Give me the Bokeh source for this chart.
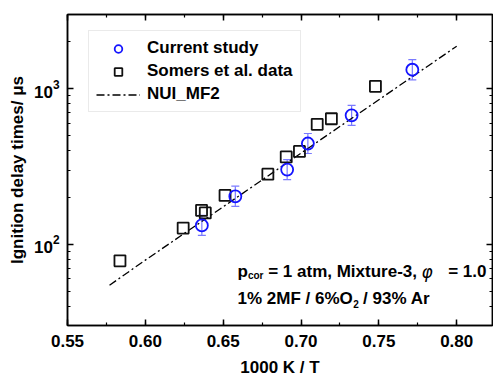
from bokeh.plotting import figure
from bokeh.models import (ColumnDataSource, Whisker, TeeHead, Legend, LegendItem, Label,
                          FixedTicker, SingleIntervalTicker, PrintfTickFormatter,
                          LinearAxis, LogAxis, Range1d)
from bokeh.embed import file_html
from bokeh.resources import INLINE

# ---- data ----
cur_x = [0.6363, 0.6578, 0.6911, 0.7044, 0.7325, 0.7715]
cur_y = [132, 203, 302, 444, 674, 1324]
cur_lo = [114, 175, 260, 383, 581, 1141]
cur_hi = [153, 236, 350, 515, 782, 1536]

som_x = [0.5837, 0.6243, 0.6361, 0.6385, 0.6512, 0.6787, 0.6905, 0.6990, 0.7104, 0.7195, 0.7478]
som_y = [78.2, 127, 165, 159, 206, 282, 364, 395, 590, 641, 1035]

nui_x = [0.577, 0.60, 0.65, 0.70, 0.75, 0.80]
nui_y = [54.5, 79, 174, 385, 849, 1875]

y_major = [100, 1000]
y_minor = [30, 40, 50, 60, 70, 80, 90, 200, 300, 400, 500, 600, 700, 800, 900, 2000, 3000]

FONT = "Liberation Sans"
BLUE = "#1414ff"
ERR = "#7a7aff"

p = figure(width=493, height=379,
           x_range=Range1d(0.55, 0.823), y_range=Range1d(30, 3000),
           y_axis_type="log", output_backend="svg", toolbar_location=None,
           min_border_left=67, min_border_right=1, min_border_top=14, min_border_bottom=53)
p.xgrid.visible = False
p.ygrid.visible = False
p.outline_line_color = "black"
p.outline_line_width = 1.5
p.outline_line_alpha = 1.0
p.background_fill_color = "white"
p.border_fill_color = "white"

xticker = SingleIntervalTicker(interval=0.05, num_minor_ticks=2)
yticker = FixedTicker(ticks=y_major, minor_ticks=y_minor)

bottom = p.xaxis[0]
left = p.yaxis[0]
bottom.ticker = xticker
bottom.formatter = PrintfTickFormatter(format="%.2f")
left.ticker = yticker

top = LinearAxis(ticker=xticker)
right = LogAxis(ticker=yticker)
p.add_layout(top, "above")
p.add_layout(right, "right")

for ax in [bottom, left, top, right]:
    ax.axis_line_color = "black"
    ax.axis_line_width = 1.5
    ax.major_tick_line_color = "black"
    ax.minor_tick_line_color = "black"
    ax.major_tick_line_width = 1.5
    ax.minor_tick_line_width = 1.2
    ax.major_tick_in = 6
    ax.major_tick_out = 0
    ax.minor_tick_in = 3
    ax.minor_tick_out = 0
    ax.major_label_text_font = FONT
    ax.major_label_text_font_style = "bold"
    ax.major_label_text_font_size = "17px"
    ax.major_label_text_color = "black"
    ax.axis_label_text_font = FONT
    ax.axis_label_text_font_style = "bold"
    ax.axis_label_text_font_size = "17px"
    ax.axis_label_text_color = "black"

for ax in [top, right]:
    ax.major_label_text_font_size = "1px"
    ax.major_label_text_alpha = 0
    ax.major_label_standoff = 0

bottom.axis_label = "1000 K / T"
bottom.major_label_standoff = 9
bottom.axis_label_standoff = 8
left.axis_label = "Ignition delay times/ μs"
left.major_label_standoff = 8
left.axis_label_standoff = 4

# NUI_MF2 model line
r_line = p.line(nui_x, nui_y, line_color="black", line_width=1.3, line_dash="8 3 2 3")

# Somers et al. squares
r_som = p.scatter(som_x, som_y, marker="square", size=11, line_color="#111111",
                  line_width=1.8, fill_color=None)

# current study with error bars
src = ColumnDataSource(dict(x=cur_x, y=cur_y, lo=cur_lo, hi=cur_hi))
wh = Whisker(source=src, base="x", upper="hi", lower="lo", line_color=ERR, line_width=1.2,
             upper_head=TeeHead(size=8, line_color=ERR, line_width=1.2),
             lower_head=TeeHead(size=8, line_color=ERR, line_width=1.2))
p.add_layout(wh)
r_cur = p.scatter("x", "y", source=src, marker="circle", size=12, line_color=BLUE,
                  line_width=1.8, fill_color=None)

legend = Legend(items=[LegendItem(label="Current study", renderers=[r_cur]),
                       LegendItem(label="Somers et al. data", renderers=[r_som]),
                       LegendItem(label="NUI_MF2", renderers=[r_line])],
                location=(21, 213), orientation="vertical",
                label_text_font=FONT, label_text_font_style="bold",
                label_text_font_size="17px", label_text_color="black",
                label_height=19, glyph_height=19, glyph_width=44, label_standoff=7,
                spacing=3, padding=7,
                border_line_color="#d6d6d6", border_line_width=1.2,
                background_fill_color="white", background_fill_alpha=1.0)
p.add_layout(legend, "center")

# annotation text (screen units relative to the plot frame)
def lab(x, y, text, size="17px", style="bold", font=FONT):
    p.add_layout(Label(x=x, y=y, x_units="screen", y_units="screen", text=text,
                       text_font=font, text_font_style=style, text_font_size=size,
                       text_color="black", text_baseline="alphabetic", text_align="left"))

x0 = 170
y1 = 54
y2 = 27
lab(x0, y1, "p")
lab(x0 + 10.4, y1 - 4, "cor", size="10px")
lab(x0 + 30.7, y1, "= 1 atm, Mixture-3,")
lab(x0 + 184, y1, "φ", style="italic", font="DejaVu Sans")
lab(x0 + 210.7, y1, "= 1.0")

lab(x0, y2, "1% 2MF / 6%O")
lab(x0 + 115.8, y2 - 5, "2", size="10px")
lab(x0 + 125.6, y2, "/ 93% Ar")

open("out.html", "w").write(file_html(p, INLINE))
